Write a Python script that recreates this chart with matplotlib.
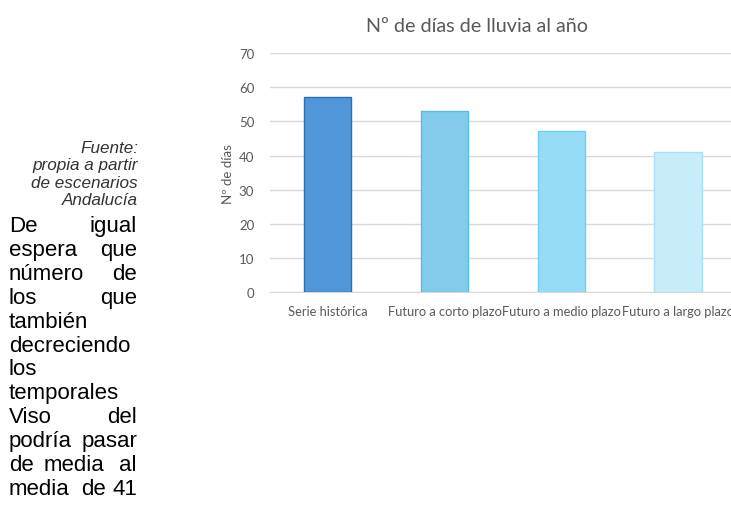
import matplotlib
matplotlib.use("Agg")
import matplotlib.pyplot as plt

categories = ["Serie histórica", "Futuro a corto plazo", "Futuro a medio plazo", "Futuro a largo plazo"]
values = [57.2, 53.0, 47.3, 41.0]
yticks = [0, 10, 20, 30, 40, 50, 60, 70]
fills = ["#5096D9", "#82CBEB", "#97DCF7", "#C9ECFA"]
edges = ["#2F6DB5", "#5DB8E3", "#70CDF3", "#A6DFF6"]

title = "Nº de días de lluvia al año"
ylabel = "Nº de días"
source_lines = ["Fuente:", "propia a partir", "de escenarios", "Andalucía"]
body_lines = [["De", "igual"], ["espera", "que"], ["número", "de"], ["los", "que"],
              ["también"], ["decreciendo"], ["los"], ["temporales"], ["Viso", "del"],
              ["podría", "pasar"], ["de", "media", "al"], ["media", "de", "41"]]

W, H = 731, 510
fig = plt.figure(figsize=(W / 100, H / 100), dpi=100)
fig.patch.set_facecolor("white")

chart_font = ["Lato", "DejaVu Sans"]
gray = "#595959"

# axes: left at 269.5 px, 4 categories each 116.7 px wide, y 0->293.3, 70->54
left = 269.5
cat_w = 116.7
y0, y70 = 293.3, 54.0
ax = fig.add_axes([left / W, (H - y0) / H, 4 * cat_w / W, (y0 - y70) / H])
x = list(range(len(categories)))
ax.bar(x, values, width=0.405, color=fills, edgecolor=edges, linewidth=1.0, zorder=3)
ax.set_xlim(-0.5, 3.5)
ax.set_ylim(0, 70)
ax.set_yticks(yticks)
ax.set_xticks(x)
ax.set_xticklabels(categories, fontsize=9.3, color=gray, family=chart_font)
ax.set_yticklabels([str(v) for v in yticks], fontsize=9.5, color=gray, family=chart_font)
ax.tick_params(axis="both", length=0)
ax.tick_params(axis="y", pad=11)
ax.tick_params(axis="x", pad=9)
ax.grid(axis="y", color="#D9D9D9", linewidth=1.0, zorder=0)
for s in ["top", "right", "left"]:
    ax.spines[s].set_visible(False)
ax.spines["bottom"].set_color("#D9D9D9")
ax.spines["bottom"].set_zorder(1)
ax.set_axisbelow(True)

fig.text(477 / W, 1 - 26 / H, title, ha="center", va="center", fontsize=14.2,
         color=gray, family=chart_font)
fig.text(228 / W, 1 - 174 / H, ylabel, ha="center", va="center", rotation=90,
         fontsize=9.5, color=gray, family=chart_font)

# left text column
src_base = [153, 170, 187.5, 205]
for line, yy in zip(source_lines, src_base):
    fig.text(138 / W, 1 - yy / H, line, ha="right", va="baseline", fontsize=12.3,
             style="italic", color="#333333", family="Liberation Sans")

fs = 16
body_base = [232 + 23.9 * i for i in range(len(body_lines))]
xl, xr = 9, 137
mid_x = [None] * 10 + [73.5, 94]
for words, yy, xm in zip(body_lines, body_base, mid_x):
    fig.text(xl / W, 1 - yy / H, words[0], ha="left", va="baseline", fontsize=fs,
             color="black", family="Liberation Sans")
    if len(words) >= 2:
        fig.text(xr / W, 1 - yy / H, words[-1], ha="right", va="baseline", fontsize=fs,
                 color="black", family="Liberation Sans")
    if len(words) == 3:
        fig.text(xm / W, 1 - yy / H, words[1], ha="center", va="baseline",
                 fontsize=fs, color="black", family="Liberation Sans")

fig.savefig("out.png", dpi=100)
